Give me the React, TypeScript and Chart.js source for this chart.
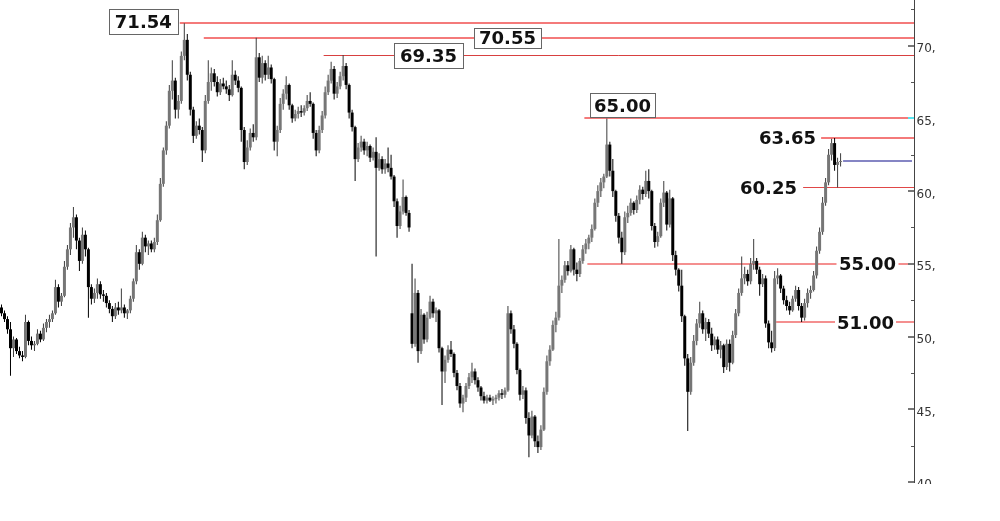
import React, { useEffect, useRef } from "react";
import { Chart, registerables } from "chart.js";

Chart.register(...registerables);

type OHLC = [number, number, number, number]; // open, high, low, close

// ---- price data (open, high, low, close), by phase ----
const advance: OHLC[] = [
  [52.0, 52.2, 51.4, 51.6], [51.6, 51.8, 51.0, 51.2], [51.2, 51.4, 50.2, 50.5], [50.5, 51.0, 47.3, 49.2],
  [49.2, 50.0, 48.6, 49.8], [49.8, 49.9, 48.8, 49.0], [49.0, 49.3, 48.5, 48.7], [48.7, 49.0, 48.3, 48.6],
  [48.6, 51.5, 48.5, 51.0], [51.0, 51.1, 49.4, 49.7], [49.7, 50.0, 49.1, 49.4], [49.4, 49.7, 49.0, 49.5],
  [49.5, 50.5, 49.4, 50.2], [50.2, 50.4, 49.6, 49.8], [49.8, 50.9, 49.7, 50.6], [50.6, 51.2, 50.3, 51.0],
  [51.0, 51.5, 50.6, 51.2], [51.2, 51.8, 51.0, 51.6], [51.6, 53.9, 51.5, 53.4], [53.4, 53.6, 52.0, 52.4],
  [52.4, 53.0, 52.1, 52.8], [52.8, 55.2, 52.7, 54.8], [54.8, 56.3, 54.6, 56.0], [56.0, 57.8, 55.6, 57.5],
  [57.5, 58.9, 56.8, 58.2], [58.2, 58.4, 56.0, 56.6], [56.6, 56.8, 54.5, 55.2], [55.2, 57.5, 55.0, 57.0],
  [57.0, 57.3, 55.5, 56.0], [56.0, 56.1, 51.3, 53.4], [53.4, 53.6, 52.2, 52.6], [52.6, 53.3, 52.3, 53.0],
  [53.0, 54.0, 52.6, 53.6], [53.6, 53.8, 52.6, 52.9], [52.9, 53.2, 52.4, 52.8], [52.8, 53.0, 52.0, 52.3],
  [52.3, 52.5, 51.6, 51.9], [51.9, 52.1, 51.0, 51.4], [51.4, 52.3, 51.2, 52.0], [52.0, 52.4, 51.5, 51.8],
  [51.8, 53.3, 51.6, 52.0], [52.0, 52.2, 51.3, 51.6], [51.6, 51.9, 51.2, 51.8], [51.8, 52.8, 51.6, 52.6],
  [52.6, 54.0, 52.4, 53.8], [53.8, 56.3, 53.6, 55.8], [55.8, 56.0, 54.6, 55.0], [55.0, 57.2, 54.9, 56.8],
  [56.8, 57.0, 55.8, 56.2], [56.2, 56.6, 55.6, 56.4], [56.4, 56.6, 55.8, 56.0], [56.0, 56.8, 55.8, 56.5],
  [56.5, 58.4, 56.3, 58.0], [58.0, 60.9, 57.9, 60.5], [60.5, 63.0, 60.3, 62.8], [62.8, 64.8, 62.5, 64.5],
  [64.5, 67.3, 64.3, 66.9], [66.9, 69.0, 66.3, 67.6], [67.6, 67.8, 65.0, 65.6], [65.6, 66.6, 65.0, 66.2],
];

const topRange: OHLC[] = [
  [66.2, 69.6, 66.0, 69.3], [69.3, 71.54, 69.0, 70.4], [70.4, 70.8, 67.6, 68.0], [68.0, 68.2, 65.2, 65.6],
  [65.6, 65.8, 63.3, 63.8], [63.8, 64.8, 63.6, 64.5], [64.5, 65.0, 63.9, 64.2], [64.2, 64.4, 62.0, 62.8],
  [62.8, 66.6, 62.6, 66.2], [66.2, 69.0, 66.0, 67.5], [67.5, 68.5, 66.9, 68.1], [68.1, 68.4, 67.2, 67.5],
  [67.5, 67.9, 66.5, 66.8], [66.8, 67.7, 66.6, 67.4], [67.4, 67.8, 67.0, 67.2], [67.2, 67.6, 66.7, 67.0],
  [67.0, 67.3, 66.2, 66.6], [66.6, 69.0, 66.5, 68.0], [68.0, 68.3, 67.3, 67.6], [67.6, 67.9, 66.8, 67.1],
  [67.1, 67.2, 63.4, 64.2], [64.2, 64.4, 61.5, 62.0], [62.0, 63.5, 61.8, 63.0], [63.0, 64.3, 62.8, 64.0],
  [64.0, 64.6, 63.4, 63.7], [63.7, 70.55, 63.5, 69.2], [69.2, 69.5, 67.5, 67.8], [67.8, 69.3, 67.4, 68.8],
  [68.8, 69.0, 67.6, 68.0], [68.0, 69.3, 67.7, 68.5], [68.5, 68.7, 67.4, 67.7], [67.7, 67.8, 62.8, 63.4],
  [63.4, 64.5, 62.4, 64.2], [64.2, 66.4, 64.0, 66.0], [66.0, 67.0, 65.6, 66.7], [66.7, 67.9, 66.3, 67.3],
  [67.3, 67.4, 65.6, 65.9], [65.9, 66.0, 64.7, 65.0], [65.0, 65.6, 64.8, 65.3], [65.3, 65.8, 65.0, 65.5],
  [65.5, 65.9, 65.1, 65.4], [65.4, 65.9, 65.2, 65.7], [65.7, 66.6, 65.5, 66.2], [66.2, 66.8, 65.8, 66.0],
  [66.0, 66.1, 63.6, 64.0], [64.0, 64.2, 62.4, 62.8], [62.8, 64.5, 62.6, 64.2], [64.2, 65.5, 64.0, 65.2],
  [65.2, 67.2, 65.0, 66.8], [66.8, 68.0, 66.6, 67.6], [67.6, 68.9, 67.4, 68.4], [68.4, 68.6, 66.3, 66.7],
  [66.7, 67.5, 66.4, 67.2], [67.2, 68.2, 67.0, 67.9], [67.9, 69.35, 67.6, 68.6], [68.6, 68.8, 67.0, 67.3],
  [67.3, 67.4, 65.0, 65.4], [65.4, 65.6, 64.1, 64.4], [64.4, 64.5, 60.7, 62.2], [62.2, 63.3, 62.0, 63.0],
  [63.0, 63.8, 62.7, 63.4], [63.4, 63.6, 62.5, 62.8], [62.8, 63.4, 62.4, 63.1], [63.1, 63.2, 62.0, 62.3],
  [62.3, 63.0, 62.1, 62.7], [62.7, 63.7, 55.5, 61.6], [61.6, 62.6, 61.4, 62.2], [62.2, 62.4, 61.2, 61.5],
  [61.5, 62.2, 61.2, 61.9], [61.9, 63.0, 61.3, 61.6], [61.6, 62.5, 60.8, 61.0], [61.0, 61.1, 58.9, 59.3],
  [59.3, 59.5, 56.8, 57.6], [57.6, 59.0, 57.4, 58.6], [58.6, 60.8, 58.4, 59.6], [59.6, 59.7, 58.3, 58.5],
  [58.5, 58.7, 57.2, 57.5],
];

const decline: OHLC[] = [
  [51.6, 55.0, 49.2, 49.5], [49.5, 54.0, 49.3, 53.0], [53.0, 53.2, 48.2, 49.0], [49.0, 51.9, 48.8, 51.5],
  [51.5, 51.6, 49.5, 49.8], [49.8, 51.7, 49.6, 51.3], [51.3, 52.8, 51.2, 52.4], [52.4, 52.6, 51.3, 51.6],
  [51.6, 52.0, 51.0, 51.8], [51.8, 51.9, 48.9, 49.2], [49.2, 49.3, 45.3, 47.6], [47.6, 48.7, 46.8, 48.4],
  [48.4, 49.4, 48.2, 49.1], [49.1, 49.7, 48.6, 48.8], [48.8, 48.9, 47.2, 47.5], [47.5, 47.7, 46.3, 46.6],
  [46.6, 46.8, 45.1, 45.4], [45.4, 46.0, 44.8, 45.8], [45.8, 46.8, 45.5, 46.6], [46.6, 47.5, 46.4, 47.2],
  [47.2, 48.2, 46.8, 47.6], [47.6, 47.8, 46.7, 47.0], [47.0, 47.2, 46.2, 46.5], [46.5, 46.6, 45.6, 45.9],
  [45.9, 46.2, 45.4, 45.6], [45.6, 46.0, 45.4, 45.8], [45.8, 46.0, 45.5, 45.6], [45.6, 45.9, 45.3, 45.7],
  [45.7, 46.0, 45.4, 45.8], [45.8, 46.3, 45.6, 46.1], [46.1, 46.4, 45.7, 46.0], [46.0, 46.5, 45.8, 46.3],
  [46.3, 52.1, 46.2, 51.6], [51.6, 51.8, 50.2, 50.5], [50.5, 50.8, 49.2, 49.5], [49.5, 49.6, 47.4, 47.7],
  [47.7, 47.8, 45.6, 46.0], [46.0, 46.6, 45.7, 46.3], [46.3, 46.5, 44.0, 44.4], [44.4, 44.8, 41.7, 43.2],
];

const recovery: OHLC[] = [
  [43.2, 44.9, 43.0, 44.5], [44.5, 44.6, 42.4, 42.8], [42.8, 43.2, 42.0, 42.4], [42.4, 43.9, 42.2, 43.6],
  [43.6, 46.5, 43.5, 46.2], [46.2, 48.7, 46.0, 48.3], [48.3, 49.4, 48.0, 49.1], [49.1, 51.1, 49.0, 50.8],
  [50.8, 51.7, 50.3, 51.3], [51.3, 56.7, 51.1, 53.5], [53.5, 54.2, 53.0, 53.9], [53.9, 55.2, 53.7, 54.9],
  [54.9, 55.2, 54.2, 54.5], [54.5, 56.3, 54.4, 56.0], [56.0, 56.1, 54.2, 54.6], [54.6, 55.1, 53.8, 54.3],
  [54.3, 55.4, 54.1, 55.2], [55.2, 56.3, 55.0, 56.0], [56.0, 56.7, 55.7, 56.4], [56.4, 57.0, 56.0, 56.8],
  [56.8, 57.7, 56.5, 57.4], [57.4, 59.5, 57.3, 59.2], [59.2, 60.4, 58.9, 60.0], [60.0, 60.9, 59.6, 60.6],
  [60.6, 61.2, 60.2, 61.0], [61.0, 65.0, 60.9, 63.2], [63.2, 63.4, 61.0, 61.4], [61.4, 62.2, 59.6, 60.0],
  [60.0, 60.1, 57.9, 58.3], [58.3, 58.5, 56.4, 56.8], [56.8, 57.2, 55.0, 55.8], [55.8, 58.6, 55.6, 58.2],
  [58.2, 59.0, 57.8, 58.5], [58.5, 59.5, 58.3, 59.2], [59.2, 59.3, 58.4, 58.7], [58.7, 59.7, 58.5, 59.4],
  [59.4, 60.4, 59.1, 60.1], [60.1, 60.3, 59.4, 59.8], [59.8, 61.4, 59.6, 60.7], [60.7, 61.5, 59.5, 60.0],
  [60.0, 60.1, 57.3, 57.6], [57.6, 57.8, 56.1, 56.5], [56.5, 57.2, 56.2, 56.9], [56.9, 59.5, 56.8, 59.2],
  [59.2, 60.7, 58.9, 59.9], [59.9, 60.0, 57.3, 57.7], [57.7, 60.1, 57.5, 59.5], [59.5, 59.6, 55.2, 55.6],
  [55.6, 55.9, 54.2, 54.6], [54.6, 54.7, 53.1, 53.5],
];

const pullback: OHLC[] = [
  [53.5, 54.6, 51.0, 51.4], [51.4, 51.5, 48.0, 48.5], [48.5, 48.8, 43.5, 46.2], [46.2, 48.6, 46.0, 48.2],
  [48.2, 50.1, 48.0, 49.7], [49.7, 51.2, 49.4, 50.9], [50.9, 52.4, 50.6, 51.6], [51.6, 51.8, 50.2, 50.5],
  [50.5, 51.3, 49.7, 51.0], [51.0, 51.2, 49.9, 50.2], [50.2, 50.6, 49.0, 49.4], [49.4, 50.0, 49.1, 49.8],
  [49.8, 50.0, 48.8, 49.1], [49.1, 49.7, 48.5, 49.4], [49.4, 49.5, 47.5, 47.9], [47.9, 49.8, 47.7, 49.5],
  [49.5, 49.8, 47.6, 48.2], [48.2, 50.4, 48.1, 50.1], [50.1, 51.9, 49.9, 51.6], [51.6, 53.3, 51.4, 53.0],
  [53.0, 55.5, 52.8, 54.0], [54.0, 54.8, 53.6, 54.3], [54.3, 54.6, 53.5, 53.8], [53.8, 55.4, 53.6, 55.0],
  [55.0, 56.7, 54.6, 55.2], [55.2, 55.4, 54.3, 54.6], [54.6, 54.8, 52.8, 53.6], [53.6, 54.3, 53.4, 54.0],
  [54.0, 54.2, 50.6, 50.9], [50.9, 51.1, 49.2, 49.6], [49.6, 50.4, 48.9, 49.2], [49.2, 54.5, 49.0, 54.0],
  [54.0, 54.7, 53.6, 54.2], [54.2, 54.3, 53.0, 53.3], [53.3, 53.5, 52.2, 52.5], [52.5, 52.8, 51.8, 52.1],
  [52.1, 52.4, 51.5, 51.8], [51.8, 52.8, 51.7, 52.6], [52.6, 53.5, 52.4, 53.2], [53.2, 53.4, 51.8, 52.1],
];

const breakout: OHLC[] = [
  [52.1, 52.3, 51.0, 51.3], [51.3, 52.6, 51.1, 52.3], [52.3, 53.3, 52.0, 53.0], [53.0, 53.5, 52.6, 53.2],
  [53.2, 54.5, 53.1, 54.2], [54.2, 56.2, 54.0, 55.9], [55.9, 57.5, 55.7, 57.2], [57.2, 59.6, 57.0, 59.2],
  [59.2, 60.9, 59.0, 60.6], [60.6, 62.9, 60.4, 62.5], [62.5, 63.6, 62.1, 63.3], [63.3, 63.65, 61.4, 61.8],
  [61.8, 62.3, 60.25, 62.0], [62.0, 62.6, 61.7, 62.06],
];

const candles: OHLC[] = [...advance, ...topRange, ...decline, ...recovery, ...pullback, ...breakout];
const emptySlots = 24; // blank space to the right of the last candle

// ---- horizontal levels ----
const levelValues = [71.54, 70.55, 69.35, 65.0, 63.65, 60.25, 55.0, 51.0];
const levelLabels = ["71.54", "70.55", "69.35", "65.00", "63.65", "60.25", "55.00", "51.00"];
const lastPrice = 62.06;

// ---- y axis ----
const yTickValues = [40, 45, 50, 55, 60, 65, 70];
const yTickLabels = ["40,", "45,", "50,", "55,", "60,", "65,", "70,"];
const yMinorTicks = [42.5, 47.5, 52.5, 57.5, 62.5, 67.5, 72.5];
const yMin = 40;
const yMax = 73.14;

// ---- styles (positions of annotation anchors / labels) ----
type LevelStyle = {
  start: number; // candle index where the line begins
  color: string;
  width: number;
  kind: "boxLeft" | "box" | "boxAbove" | "right" | "gap";
  cx?: number;
  x?: number;
  w?: number;
  h?: number;
  dy?: number;
  gap?: number;
};
const levelStyles: LevelStyle[] = [
  { start: 60, color: "#f47a7a", width: 2, kind: "boxLeft", w: 69, h: 25, dy: -1.5 },
  { start: 68, color: "#f47a7a", width: 2, kind: "box", cx: 507.5, w: 67, h: 20, dy: 0 },
  { start: 108, color: "#d84040", width: 1, kind: "box", cx: 428.5, w: 69, h: 25, dy: 0.5 },
  { start: 195, color: "#f47a7a", width: 2, kind: "boxAbove", cx: 622.5, w: 65, h: 24 },
  { start: 274, color: "#f47a7a", width: 2, kind: "right", x: 816, dy: -0.5 },
  { start: 268, color: "#e04848", width: 1, kind: "right", x: 797, dy: 0 },
  { start: 196, color: "#f06a6a", width: 1.5, kind: "gap", cx: 867.5, gap: 62 },
  { start: 259, color: "#f06a6a", width: 1.5, kind: "gap", cx: 865.5, gap: 61 },
];

const FONT_BIG = 'bold 18px "DejaVu Sans", Verdana, sans-serif';
const FONT_AXIS = '12px "DejaVu Sans", Verdana, sans-serif';

function drawText(ctx: CanvasRenderingContext2D, text: string, x: number, cy: number, align: CanvasTextAlign) {
  ctx.font = FONT_BIG;
  ctx.fillStyle = "#111";
  ctx.textAlign = align;
  ctx.textBaseline = "alphabetic";
  ctx.fillText(text, x, cy + 6.6);
}

function drawBox(ctx: CanvasRenderingContext2D, cx: number, cy: number, w: number, h: number, text: string) {
  const x = Math.round(cx - w / 2) + 0.5;
  const y = Math.round(cy - h / 2) + 0.5;
  ctx.fillStyle = "#fff";
  ctx.fillRect(x, y, w, h);
  ctx.strokeStyle = "#666";
  ctx.lineWidth = 1;
  ctx.strokeRect(x, y, w, h);
  drawText(ctx, text, cx, cy, "center");
}

function lineY(y: number, width: number) {
  return width === 1 ? Math.round(y) + 0.5 : Math.round(y);
}

const levelPlugin = {
  id: "levels",
  beforeDatasetsDraw(chart: any) {
    const { ctx, chartArea, scales } = chart;
    const xs = scales.x;
    const ys = scales.y;
    const slot = xs.getPixelForValue(1) - xs.getPixelForValue(0);
    ctx.save();
    levelValues.forEach((v, k) => {
      const st = levelStyles[k];
      const y = lineY(ys.getPixelForValue(v), st.width);
      const x0 = xs.getPixelForValue(st.start) - slot / 2;
      ctx.strokeStyle = st.color;
      ctx.lineWidth = st.width;
      ctx.beginPath();
      ctx.moveTo(x0, y);
      ctx.lineTo(chartArea.right, y);
      ctx.stroke();
    });
    // last price line
    const yl = Math.round(ys.getPixelForValue(lastPrice));
    const xl = xs.getPixelForValue(candles.length - 1) + 2.5;
    ctx.strokeStyle = "#8585c4";
    ctx.lineWidth = 2;
    ctx.beginPath();
    ctx.moveTo(xl, yl);
    ctx.lineTo(chartArea.right - 2, yl);
    ctx.stroke();
    ctx.restore();
  },
  afterDatasetsDraw(chart: any) {
    const { ctx, scales } = chart;
    const xs = scales.x;
    const ys = scales.y;
    const slot = xs.getPixelForValue(1) - xs.getPixelForValue(0);
    ctx.save();
    levelValues.forEach((v, k) => {
      const st = levelStyles[k];
      const text = levelLabels[k];
      const y = ys.getPixelForValue(v);
      const x0 = xs.getPixelForValue(st.start) - slot / 2;
      if (st.kind === "boxLeft") {
        const right = x0 - 2;
        drawBox(ctx, right - st.w! / 2, y + (st.dy || 0), st.w!, st.h!, text);
      } else if (st.kind === "box") {
        drawBox(ctx, st.cx!, y + (st.dy || 0), st.w!, st.h!, text);
      } else if (st.kind === "boxAbove") {
        const bottom = y - 1;
        drawBox(ctx, st.cx!, bottom - st.h! / 2, st.w!, st.h!, text);
      } else if (st.kind === "right") {
        drawText(ctx, text, st.x!, y + (st.dy || 0), "right");
      } else if (st.kind === "gap") {
        ctx.fillStyle = "#fff";
        ctx.fillRect(st.cx! - st.gap! / 2, y - 4, st.gap!, 8);
        drawText(ctx, text, st.cx!, y, "center");
      }
    });
    ctx.restore();
  },
  afterDraw(chart: any) {
    const { ctx, chartArea, scales } = chart;
    const ys = scales.y;
    const ax = Math.round(chartArea.right) + 0.5;
    ctx.save();
    ctx.strokeStyle = "#444";
    ctx.lineWidth = 1;
    ctx.beginPath();
    ctx.moveTo(ax, 0);
    ctx.lineTo(ax, Math.round(chartArea.bottom) + 1);
    ctx.stroke();
    // minor ticks
    ctx.fillStyle = "#555";
    yMinorTicks.forEach((v) => {
      const y = Math.round(ys.getPixelForValue(v));
      ctx.fillRect(ax - 3.5, y, 3, 1);
    });
    // major ticks
    ctx.fillStyle = "#777";
    yTickValues.forEach((v) => {
      const y = Math.round(ys.getPixelForValue(v));
      ctx.fillRect(ax - 6.5, y - 1, 6, 2);
    });
    // cyan marker at 65
    const y65 = Math.round(ys.getPixelForValue(65));
    ctx.fillStyle = "#55e6f0";
    ctx.fillRect(ax - 6.5, y65 - 1, 6, 2);
    // labels (clipped just under the bottom)
    ctx.beginPath();
    ctx.rect(ax, 0, 1000 - ax, Math.round(chartArea.bottom) + 2);
    ctx.clip();
    ctx.font = FONT_AXIS;
    ctx.fillStyle = "#333";
    ctx.textAlign = "left";
    ctx.textBaseline = "alphabetic";
    yTickValues.forEach((v, k) => {
      const y = ys.getPixelForValue(v);
      ctx.fillText(yTickLabels[k], ax + 2, y + 2 + 4.4);
    });
    ctx.restore();
  },
};

export default function App() {
  const ref = useRef<HTMLCanvasElement>(null);

  useEffect(() => {
    const canvas = ref.current;
    if (!canvas) return;
    const labels = Array.from({ length: candles.length + emptySlots }, (_, i) => String(i));
    const wick = candles.map((c) => [c[2], c[1]]);
    const body = candles.map((c) => [Math.min(c[0], c[3]), Math.max(c[0], c[3])]);
    const up = candles.map((c) => c[3] >= c[0]);

    const chart = new Chart(canvas, {
      type: "bar",
      data: {
        labels,
        datasets: [
          {
            data: body as any,
            backgroundColor: up.map((u) => (u ? "#767676" : "#000000")),
            barThickness: 3,
            grouped: false,
            borderWidth: 0,
            minBarLength: 1,
            inflateAmount: 0,
          } as any,
          {
            data: wick as any,
            backgroundColor: up.map((u) => (u ? "#3c3c3c" : "#000000")),
            barThickness: 1,
            grouped: false,
            borderWidth: 0,
            inflateAmount: 0,
          } as any,
        ],
      },
      options: {
        animation: false,
        responsive: false,
        devicePixelRatio: 1,
        events: [],
        layout: { padding: { left: 0, right: 86, top: 0, bottom: 39 } },
        plugins: { legend: { display: false }, tooltip: { enabled: false } },
        scales: {
          x: { display: false },
          y: { display: false, min: yMin, max: yMax },
        },
      },
      plugins: [levelPlugin],
    });
    return () => chart.destroy();
  }, []);

  return (
    <div style={{ position: "absolute", left: 0, top: 0, width: 1000, height: 521, background: "#fff" }}>
      <canvas ref={ref} width={1000} height={521} style={{ display: "block" }} />
    </div>
  );
}
